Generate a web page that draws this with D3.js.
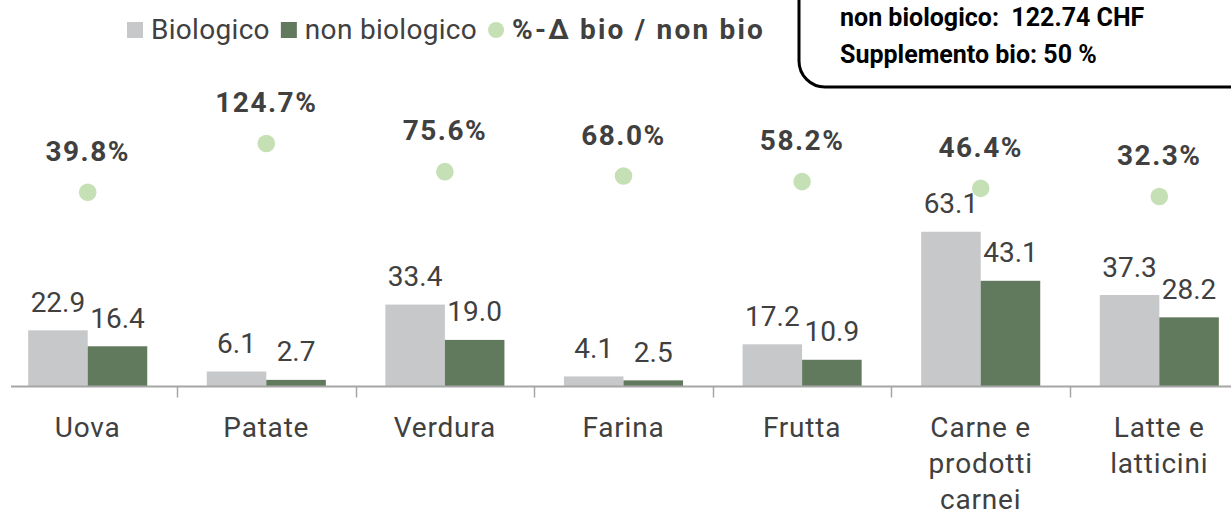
<!DOCTYPE html>
<html>
<head>
<meta charset="utf-8">
<script src="https://cdn.jsdelivr.net/npm/d3@7"></script>
<style>
  html, body { margin: 0; padding: 0; background: #ffffff; }
  svg { display: block; font-family: Roboto, "Noto Sans", sans-serif; }
</style>
</head>
<body>
<svg id="chart" width="1231" height="511"></svg>
<script>
// ---- data ----
const categories = ["Uova", "Patate", "Verdura", "Farina", "Frutta", "Carne e prodotti carnei", "Latte e latticini"];
const categoryLines = [["Uova"], ["Patate"], ["Verdura"], ["Farina"], ["Frutta"], ["Carne e", "prodotti", "carnei"], ["Latte e", "latticini"]];
const bioValues = [22.9, 6.1, 33.4, 4.1, 17.2, 63.1, 37.3];
const nonBioValues = [16.4, 2.7, 19.0, 2.5, 10.9, 43.1, 28.2];
const deltaPct = [39.8, 124.7, 75.6, 68.0, 58.2, 46.4, 32.3];
const seriesNames = ["Biologico", "non biologico", "%-Δ bio / non bio"];
const boxLines = ["non biologico:  122.74 CHF", "Supplemento bio: 50 %"];

const colBio = "#c7c8ca", colNon = "#61795c", colDot = "#c6e0b5", colText = "#404040";

const svg = d3.select("#chart");
const baseY = 386.5, topY = 129;

const x = d3.scaleBand().domain(categories).range([-1.6, 1248.6]).padding(0);
const x1 = d3.scaleBand().domain(["bio", "non"]).range([0, x.bandwidth()]).paddingInner(0).paddingOuter(0.5);
const y = d3.scaleLinear().domain([0, 105]).range([baseY, topY]);
const y2 = d3.scaleLinear().domain([-300, 150]).range([387, topY]);

const rows = categories.map((c, i) => ({ c, i, bio: bioValues[i], non: nonBioValues[i], d: deltaPct[i] }));

// ---- info box (top right, partly cut) ----
svg.append("rect")
  .attr("x", 799).attr("y", -40).attr("width", 500).attr("height", 127)
  .attr("rx", 26).attr("ry", 26)
  .attr("fill", "#ffffff").attr("stroke", "#000000").attr("stroke-width", 3);
svg.append("g").selectAll("text").data(boxLines).join("text")
  .attr("x", 840).attr("y", (d, i) => 26 + i * 37)
  .attr("font-size", 25).attr("font-weight", 700).attr("fill", "#000")
  .style("white-space", "pre")
  .text(d => d);

// ---- bars ----
const g = svg.append("g");
const grp = g.selectAll("g.cat").data(rows).join("g").attr("class", "cat")
  .attr("transform", d => `translate(${x(d.c)},0)`);
grp.append("rect")
  .attr("x", x1("bio")).attr("width", x1.bandwidth())
  .attr("y", d => y(d.bio)).attr("height", d => y(0) - y(d.bio))
  .attr("fill", colBio);
grp.append("rect")
  .attr("x", x1("non")).attr("width", x1.bandwidth())
  .attr("y", d => y(d.non)).attr("height", d => y(0) - y(d.non))
  .attr("fill", colNon);

// bar value labels
grp.append("text")
  .attr("x", x1("bio") + x1.bandwidth() / 2).attr("y", d => y(d.bio) - 18.5)
  .attr("text-anchor", "middle").attr("font-size", 28).attr("fill", colText)
  .text(d => d.bio.toFixed(1));
grp.append("text")
  .attr("x", x1("non") + x1.bandwidth() / 2).attr("y", d => y(d.non) - 18.5)
  .attr("text-anchor", "middle").attr("font-size", 28).attr("fill", colText)
  .text(d => d.non.toFixed(1));

// ---- axis ----
const axisG = svg.append("g").attr("transform", `translate(0,${baseY})`);
axisG.append("line").attr("x1", 11).attr("x2", 1231).attr("y1", 0).attr("y2", 0)
  .attr("stroke", "#a6a6a6").attr("stroke-width", 2);
axisG.selectAll("line.tick").data(categories.slice(1)).join("line").attr("class", "tick")
  .attr("x1", d => Math.round(x(d)) + 0.5).attr("x2", d => Math.round(x(d)) + 0.5)
  .attr("y1", 0).attr("y2", 11)
  .attr("stroke", "#a6a6a6").attr("stroke-width", 1.5);

// category labels
const catG = svg.append("g");
rows.forEach((r, i) => {
  const t = catG.append("text")
    .attr("x", x(r.c) + x.bandwidth() / 2).attr("y", 437)
    .attr("text-anchor", "middle").attr("font-size", 28).attr("fill", colText)
    .attr("letter-spacing", 0.8);
  categoryLines[i].forEach((ln, k) => {
    t.append("tspan").attr("x", x(r.c) + x.bandwidth() / 2).attr("y", 437 + k * 36).text(ln);
  });
});

// ---- percent dots ----
const dotG = svg.append("g");
dotG.selectAll("circle").data(rows).join("circle")
  .attr("cx", d => x(d.c) + x.bandwidth() / 2)
  .attr("cy", d => y2(d.d))
  .attr("r", 8.8).attr("fill", colDot);
dotG.selectAll("text").data(rows).join("text")
  .attr("x", d => x(d.c) + x.bandwidth() / 2)
  .attr("y", d => y2(d.d) - 31.5)
  .attr("text-anchor", "middle").attr("font-size", 28).attr("font-weight", 700)
  .attr("fill", colText).attr("letter-spacing", 1.5)
  .text(d => d.d.toFixed(1) + "%");

// ---- legend ----
const leg = svg.append("g");
const legItems = [
  { name: seriesNames[0], color: colBio, shape: "rect", bold: false },
  { name: seriesNames[1], color: colNon, shape: "rect", bold: false },
  { name: seriesNames[2], color: colDot, shape: "circle", bold: true }
];
let lx = 127;
const legBase = 38.5;
legItems.forEach(it => {
  if (it.shape === "rect") {
    leg.append("rect").attr("x", lx).attr("y", 22).attr("width", 16).attr("height", 16).attr("fill", it.color);
  } else {
    leg.append("circle").attr("cx", lx + 8).attr("cy", 30).attr("r", 8).attr("fill", it.color);
  }
  const t = leg.append("text").attr("x", lx + 24).attr("y", legBase)
    .attr("font-size", 28).attr("fill", colText)
    .attr("font-weight", it.bold ? 700 : 400)
    .attr("letter-spacing", it.bold ? 2.2 : 0.3)
    .style("white-space", "pre")
    .text(it.name);
  lx = lx + 24 + t.node().getComputedTextLength() + 11;
});
</script>
</body>
</html>
